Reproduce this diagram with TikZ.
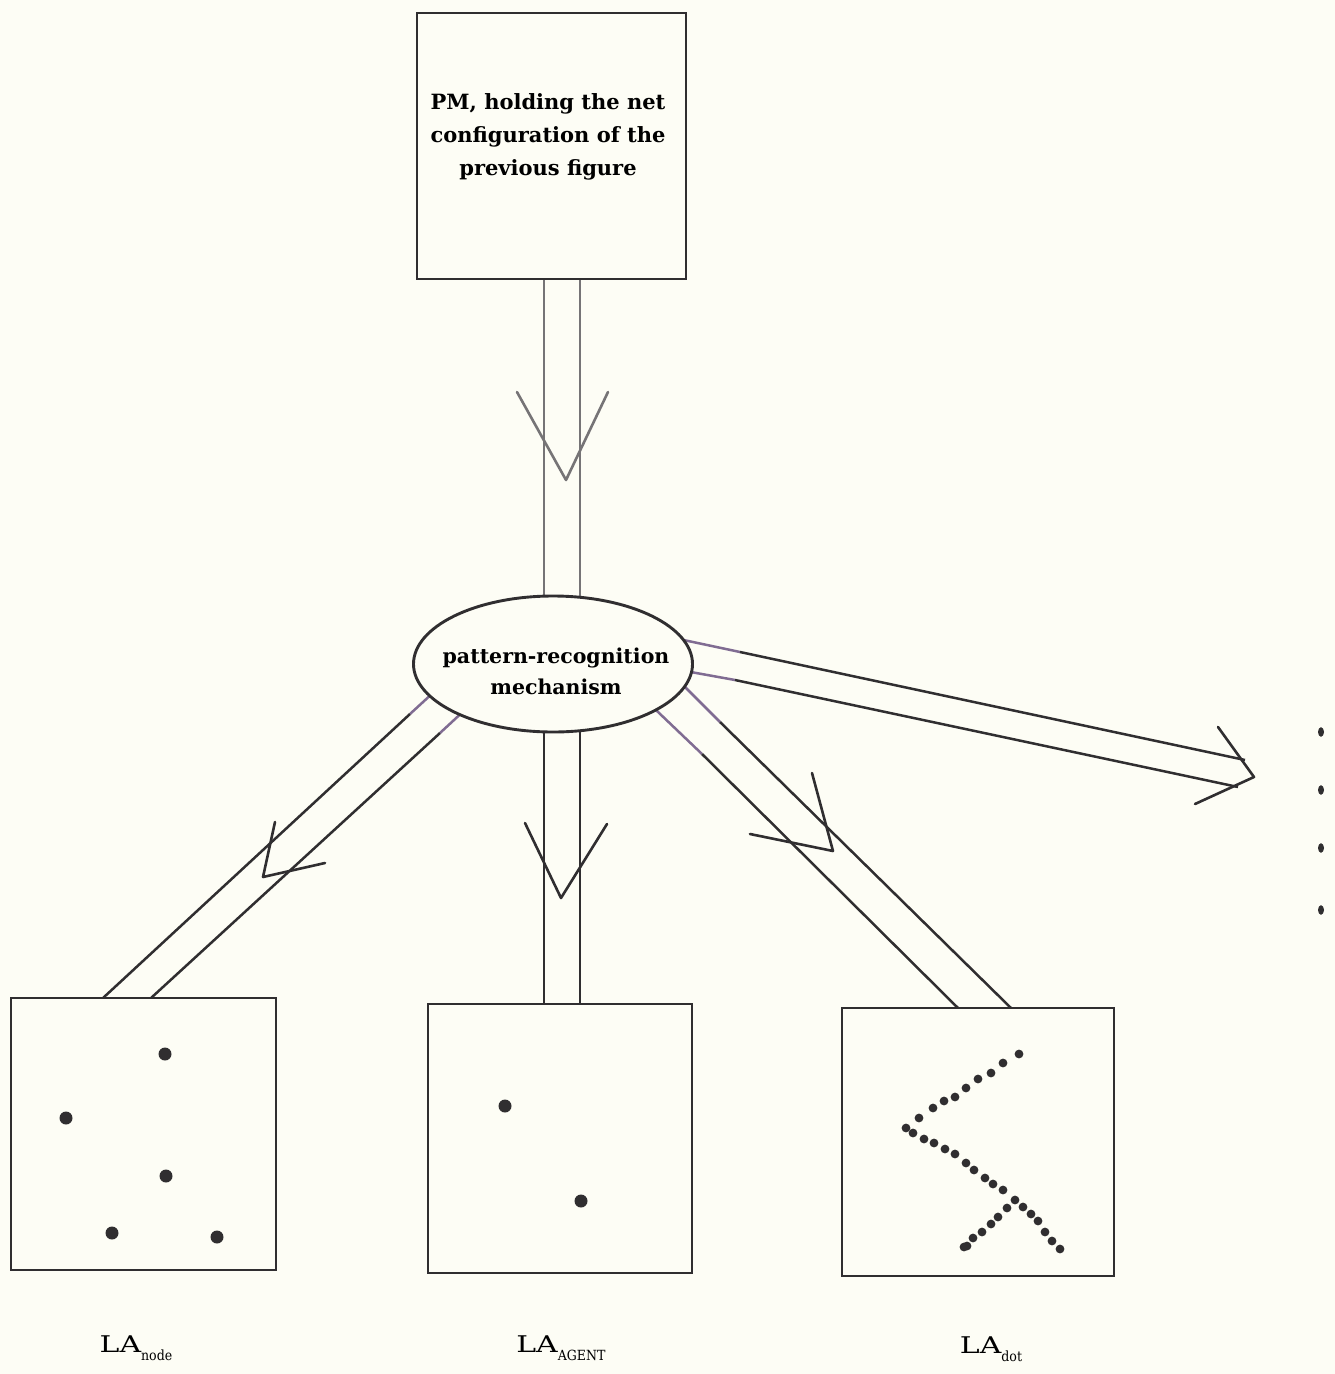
\documentclass[tikz,border=0pt]{standalone}
\usepackage{fontspec}
\setmainfont{DejaVu Serif}
\newfontfamily\labfont[FakeStretch=1.3]{DejaVu Serif}
\newfontfamily\subfont[FakeStretch=0.9]{DejaVu Serif}
\usetikzlibrary{shapes.geometric,backgrounds}
\definecolor{paper}{RGB}{253,253,245}
\definecolor{ink}{RGB}{48,46,48}
\definecolor{pale}{RGB}{118,116,118}
\definecolor{lilac}{RGB}{128,108,146}
\begin{document}
\begin{tikzpicture}[x=1pt,y=-1pt,
  panel/.style={draw=ink,line width=2.9pt,inner sep=0pt,fill=none},
  chan/.style={draw=ink,line width=2.5pt},
  chanpale/.style={draw=pale,line width=2.4pt},
  chanlilac/.style={draw=lilac,line width=2.5pt},
  head/.style={draw=ink,line width=2.6pt,line join=round,line cap=round},
  headpale/.style={draw=pale,line width=2.6pt,line join=round,line cap=round},
  blob/.style={fill=ink},
  txt/.style={font=\bfseries\fontsize{21}{33}\selectfont,align=center,inner sep=0pt},
  prtxt/.style={font=\bfseries\fontsize{20.5}{31}\selectfont,align=center,inner sep=0pt},
  lbl/.style={font=\labfont\fontsize{23}{26}\selectfont,inner sep=0pt}]

% --- boxes -------------------------------------------------------
\node[panel,minimum width=269pt,minimum height=266pt] (pm)  at (551.5,146) {};
\node[txt] (pmtext) at (548,137) {PM, holding the net\\configuration of the\\previous figure};

\node[panel,minimum width=265pt,minimum height=272pt] (node) at (143.5,1134) {};
\node[panel,minimum width=264pt,minimum height=269pt] (agent) at (560,1138.5) {};
\node[panel,minimum width=272pt,minimum height=268pt] (dotb) at (978,1142) {};

% --- pattern-recognition mechanism --------------------------------
\node[draw=ink,line width=2.9pt,fill=paper,ellipse,minimum width=279pt,minimum height=136pt,
      inner sep=0pt] (pr) at (553,664) {};
\node[prtxt] (prtext) at (556,671) {pattern-recognition\\mechanism};

% --- channel end points --------------------------------------------
\coordinate (t1a) at (544,279);  \coordinate (t1b) at (544,640);
\coordinate (t2a) at (580,279);  \coordinate (t2b) at (580,640);
\coordinate (d1a) at (544,690);  \coordinate (d1b) at (544,1004);
\coordinate (d2a) at (580,690);  \coordinate (d2b) at (580,1004);
\coordinate (l1a) at (460,668);  \coordinate (l1m) at (410,714); \coordinate (l1b) at (103,998);
\coordinate (l2a) at (495,682);  \coordinate (l2m) at (440,733); \coordinate (l2b) at (151,998);
\coordinate (r1a) at (660,662);  \coordinate (r1m) at (720,722); \coordinate (r1b) at (1011,1008);
\coordinate (r2a) at (635,690);  \coordinate (r2m) at (702,754); \coordinate (r2b) at (958,1008);
\coordinate (e1a) at (660,635);  \coordinate (e1m) at (740,652); \coordinate (e1b) at (1245,760);
\coordinate (e2a) at (663,667);  \coordinate (e2m) at (735,680); \coordinate (e2b) at (1238,787);

\begin{scope}[on background layer]
  % page
  \fill[paper] (0,0) rectangle (1335,1374);
  % from PM down to the mechanism
  \draw[chanpale] (t1a) -- (t1b);
  \draw[chanpale] (t2a) -- (t2b);
  % from the mechanism to LA_AGENT
  \draw[chan] (d1a) -- (d1b);
  \draw[chan] (d2a) -- (d2b);
  % to LA_node
  \draw[chanlilac] (l1a) -- (l1m); \draw[chan] (l1m) -- (l1b);
  \draw[chanlilac] (l2a) -- (l2m); \draw[chan] (l2m) -- (l2b);
  % to LA_dot
  \draw[chanlilac] (r1a) -- (r1m); \draw[chan] (r1m) -- (r1b);
  \draw[chanlilac] (r2a) -- (r2m); \draw[chan] (r2m) -- (r2b);
  % off to the right
  \draw[chanlilac] (e1a) -- (e1m); \draw[chan] (e1m) -- (e1b);
  \draw[chanlilac] (e2a) -- (e2m); \draw[chan] (e2m) -- (e2b);
\end{scope}

% --- open arrowheads ------------------------------------------------
\coordinate (ht1) at (517,392); \coordinate (htt) at (566,480); \coordinate (ht2) at (608,392);
\draw[headpale] (ht1) -- (htt) -- (ht2);
\coordinate (hd1) at (525,823); \coordinate (hdt) at (561,898); \coordinate (hd2) at (607,824);
\draw[head] (hd1) -- (hdt) -- (hd2);
\coordinate (hl1) at (275,822); \coordinate (hlt) at (263,877); \coordinate (hl2) at (325,863);
\draw[head] (hl1) -- (hlt) -- (hl2);
\coordinate (hr1) at (812,773); \coordinate (hrt) at (833,851); \coordinate (hr2) at (750,834);
\draw[head] (hr1) -- (hrt) -- (hr2);
\coordinate (he1) at (1218,727); \coordinate (het) at (1254,777); \coordinate (he2) at (1195,804);
\draw[head] (he1) -- (het) -- (he2);

% --- trailing dots on the right -------------------------------------
\foreach \yy in {732,790,848,910}
  \fill[ink] (1321,\yy) ellipse [x radius=3pt,y radius=4.8pt];

% --- contents of LA_node --------------------------------------------
\foreach \px/\py in {165/1054,66/1118,166/1176,112/1233,217/1237}
  \fill[blob] (\px,\py) circle [radius=6.5pt];

% --- contents of LA_AGENT -------------------------------------------
\foreach \px/\py in {505/1106,581/1201}
  \fill[blob] (\px,\py) circle [radius=6.5pt];

% --- contents of LA_dot ---------------------------------------------
\foreach \px/\py in {1019/1054,1003/1063,991/1073,978/1079,966/1088,955/1097,944/1101,
                     933/1108,919/1118,906/1128,
                     913/1133,924/1139,934/1143,945/1149,955/1154,966/1163,974/1170,
                     985/1178,993/1184,1003/1190,1015/1200,1023/1207,1031/1214,
                     1038/1221,1045/1232,1052/1241,1060/1249,
                     1007/1208,998/1217,991/1224,982/1232,973/1238,967/1246,964/1247}
  \fill[blob] (\px,\py) circle [radius=4.4pt];

% --- labels ---------------------------------------------------------
\node[lbl] (lnode)  at (136,1348) {LA\raisebox{-0.7ex}{\subfont\fontsize{14}{14}\selectfont node}};
\node[lbl] (lagent) at (561,1348) {LA\raisebox{-0.7ex}{\subfont\fontsize{14}{14}\selectfont AGENT}};
\node[lbl] (ldot)   at (991,1349) {LA\raisebox{-0.7ex}{\subfont\fontsize{14}{14}\selectfont dot}};
\end{tikzpicture}
\end{document}
